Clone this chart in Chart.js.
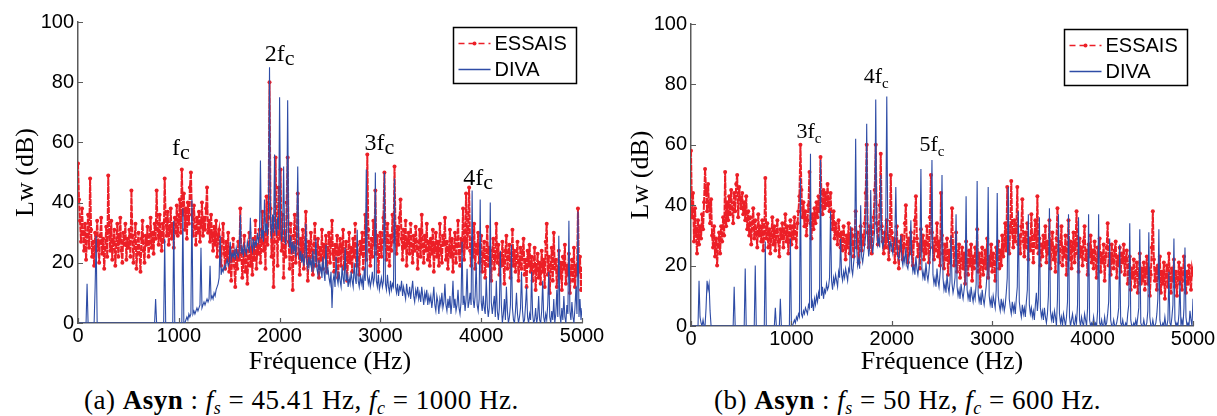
<!DOCTYPE html>
<html>
<head>
<meta charset="utf-8">
<script src="https://cdn.jsdelivr.net/npm/chart.js@4.4.1/dist/chart.umd.min.js"></script>
<style>
  html, body { margin: 0; padding: 0; background: #fff; }
  body { width: 1217px; height: 416px; position: relative; overflow: hidden; }
  canvas { position: absolute; top: 0; }
  #chartA { left: 0; }
  #chartB { left: 610px; }
  .caption { position: absolute; top: 386px; line-height: 28px; font-family: "Liberation Serif", serif; font-size: 27px; letter-spacing: 0.5px; white-space: nowrap; color: #000; }
  .caption sub { font-size: 18px; vertical-align: -5px; line-height: 0; }
</style>
</head>
<body>
<canvas id="chartA" width="610" height="375"></canvas>
<canvas id="chartB" width="607" height="375"></canvas>
<div class="caption" style="left:84px">(a) <b>Asyn</b> : <i>f<sub>s</sub></i> = 45.41 Hz, <i>f<sub>c</sub></i> = 1000 Hz.</div>
<div class="caption" style="left:714px">(b) <b>Asyn</b> : <i>f<sub>s</sub></i> = 50 Hz, <i>f<sub>c</sub></i> = 600 Hz.</div>
<script>
// Spectres de puissance acoustique Lw (dB), un point tous les 10 Hz, de 0 à 5000 Hz

const stepHz = 10;

// (a) fs = 45.41 Hz, fc = 1000 Hz
const essaisA = [
  53,41,34,27,38,30,24,33,21,29, 36,25,48,31,22,27,19,30,24,34, 26,20,29,35,23,28,18,25,32,22, 49,30,24,34,21,27,31,19,26,33, 22,28,35,24,20,30,26,33,21,28,
  25,31,22,44,29,20,27,33,18,25, 30,23,17,28,34,24,20,29,26,32, 22,27,35,25,30,23,33,28,44,31, 26,36,29,24,33,27,48,34,29,37, 26,31,38,28,33,25,35,30,39,29,
  34,41,30,51,36,43,31,38,28,40, 33,45,50,36,29,39,32,26,35,30, 37,27,33,40,29,35,31,38,45,30, 34,27,36,29,24,32,26,34,22,29, 31,24,19,28,33,23,18,27,21,30,
  17,25,14,22,28,19,12,24,18,27, 21,38,23,15,20,29,17,24,13,22, 30,19,25,16,28,21,34,18,26,23, 31,20,27,37,24,30,18,42,26,35, 80,38,22,31,12,27,55,33,19,45,
  28,51,24,36,15,30,22,40,55,27, 18,33,25,11,29,36,20,27,43,23, 16,28,21,31,18,25,37,22,14,27, 20,30,24,16,26,33,19,23,28,15, 25,21,31,18,26,22,29,17,24,30,
  20,27,34,23,17,26,21,29,15,24, 28,19,25,31,18,23,27,14,22,30, 20,25,17,28,22,33,19,26,21,16, 27,23,30,18,25,36,21,56,31,24, 19,28,22,34,26,44,23,29,17,25,
  30,22,27,35,50,28,21,33,25,19, 29,24,36,27,52,30,23,32,26,35, 41,28,21,31,25,34,19,27,30,23, 33,26,20,29,24,32,27,18,25,31, 22,36,26,20,29,24,33,21,27,19,
  28,23,31,17,25,30,22,27,19,33, 24,20,29,26,35,21,27,18,24,31, 22,28,17,25,30,20,26,34,23,19, 28,24,38,21,27,43,25,31,45,24, 19,28,22,33,18,26,23,30,20,25,
  29,17,23,27,15,22,32,19,25,21, 14,24,28,18,22,33,20,26,16,23, 19,27,21,13,24,29,18,22,26,15, 21,31,19,24,17,22,27,14,20,25, 18,23,28,16,21,12,24,19,26,17,
  22,14,19,25,11,18,23,15,20,13, 24,17,21,12,27,33,16,22,10,19, 25,14,30,18,21,12,17,24,15,20, 11,22,18,26,13,19,16,23,10,18, 21,14,25,12,19,16,38,17,22,11,
  18
];
const divaA = [
  0,0,0,0,0,0,0,0,0,13, 0,0,0,0,0,0,0,12,29,0, 0,0,0,0,0,0,0,0,0,0, 0,0,0,0,0,0,0,0,0,0, 0,0,0,0,0,0,0,0,0,0,
  0,0,0,0,0,0,0,0,0,0, 0,0,0,0,0,0,0,0,0,0, 0,0,0,0,0,0,0,8,0,0, 0,0,0,0,0,0,28,0,0,0, 0,0,0,0,0,34,0,0,0,0,
  0,0,0,0,38,0,0,1,2,1, 3,2,3,41,3,4,3,4,5,4, 5,6,25,5,6,7,6,7,8,7, 8,19,8,9,8,10,9,11,12,13, 15,29,16,18,17,19,18,20,21,19,
  20,27,21,23,22,24,21,25,23,22, 24,36,23,25,22,26,24,23,27,25, 24,35,26,24,28,25,27,26,30,27, 29,54,28,31,27,41,30,33,29,38, 85,34,28,36,30,56,32,29,35,31,
  75,33,27,31,52,29,26,30,74,28, 25,29,23,27,24,26,22,28,52,25, 21,24,20,23,19,22,33,20,18,22, 19,21,17,24,18,20,28,18,16,21, 17,19,15,22,17,14,26,16,18,15,
  13,17,5,14,16,12,22,15,13,17, 14,12,19,15,13,25,14,16,12,15, 13,17,14,12,20,15,13,31,14,12, 16,13,15,11,18,14,51,16,13,15, 12,14,17,13,15,50,14,12,16,11,
  13,15,12,14,50,13,11,16,12,10, 14,11,13,12,48,12,10,13,9,12, 11,14,9,12,10,8,13,10,9,12, 8,11,14,9,7,11,9,12,8,10, 7,12,9,6,10,8,11,6,9,7,
  9,5,8,12,6,4,9,7,3,8, 6,10,5,7,13,6,4,8,5,9, 3,7,14,5,8,4,6,11,5,3, 7,27,6,9,4,8,18,5,7,10, 6,44,8,5,9,20,6,4,8,41,
  7,4,9,5,3,15,6,2,5,40, 7,3,6,9,2,14,4,1,5,24, 6,0,3,8,1,12,4,0,2,6, 26,5,1,0,4,10,3,0,2,5, 17,4,0,1,6,12,2,0,3,1,
  17,3,0,1,5,0,2,9,1,0, 4,14,2,0,3,1,6,17,2,0, 4,1,8,0,3,11,2,29,3,0, 5,1,9,2,0,6,3,34,4,1, 7,2,0,5,12,3,37,2,8,1,
  5
];

// (b) fs = 50 Hz, fc = 600 Hz
const essaisB = [
  58,36,44,28,39,31,24,35,27,33, 29,37,32,41,52,45,38,47,40,34, 42,30,26,33,23,29,20,27,31,24, 33,28,36,30,51,33,41,35,43,37, 45,39,34,44,38,47,50,36,46,42,
  39,44,37,41,35,43,32,38,30,36, 27,34,39,29,35,31,26,37,30,33, 28,35,25,31,49,29,34,26,32,24, 30,36,27,33,25,31,35,28,23,32, 29,34,26,31,37,28,33,24,30,35,
  27,33,29,36,31,26,34,38,43,60, 45,36,41,33,38,30,35,40,51,34, 29,37,32,39,34,41,36,43,38,56, 42,37,45,39,44,40,47,41,38,44, 36,32,38,29,34,31,27,35,30,26,
  31,25,33,28,22,30,26,34,24,29, 32,27,23,30,38,26,31,21,28,33, 25,30,27,34,44,60,31,26,33,28, 24,31,36,45,60,34,27,32,40,57, 33,28,24,31,26,35,29,22,30,50,
  31,25,29,21,27,33,24,19,28,25, 30,22,26,34,40,27,21,29,24,31, 26,20,28,35,43,29,23,27,19,32, 25,30,22,28,24,33,27,21,36,50, 31,26,22,29,25,34,23,28,20,44,
  30,24,19,27,22,29,17,25,21,28, 39,26,20,24,31,18,23,27,16,22, 26,19,24,14,28,21,17,25,20,27, 15,23,19,26,21,32,18,24,13,22, 26,17,21,25,19,29,16,23,20,27,
  18,24,21,15,26,22,28,19,25,20, 30,23,27,34,25,46,29,24,33,48, 31,26,35,28,32,46,27,30,24,33, 42,28,23,31,26,34,22,29,25,37, 27,21,30,35,26,43,24,29,20,27,
  23,30,26,33,21,28,24,35,19,27, 31,22,26,18,29,39,25,21,28,33, 20,26,23,30,17,25,35,22,28,19, 26,31,21,27,38,24,18,29,23,26, 20,28,33,22,25,17,27,23,30,21,
  25,19,28,22,16,26,23,29,18,24, 21,27,15,23,26,34,20,24,17,27, 22,19,25,28,16,23,20,26,18,24, 21,27,17,22,25,14,20,23,12,19, 16,22,13,18,21,11,17,24,14,19,
  15,21,12,18,23,14,19,10,17,26, 38,22,15,19,12,20,16,23,11,18, 14,21,9,17,20,13,24,16,11,19, 15,22,13,18,10,16,21,14,19,12, 17,23,15,11,18,14,20,16,12,19,
  17
];
const divaB = [
  0,0,0,0,0,0,0,0,15,3, 1,0,2,0,0,6,15,12,14,5, 0,0,0,0,0,0,0,0,0,0, 0,0,0,0,0,0,0,0,0,0, 0,0,0,13,0,0,0,0,0,0,
  0,0,0,0,19,0,0,0,0,0, 0,0,0,0,20,0,0,0,0,0, 0,0,0,0,28,0,0,0,0,0, 0,0,0,0,6,0,0,0,0,9, 0,0,0,0,0,0,0,0,0,29,
  0,0,1,2,1,3,2,4,3,49, 4,3,5,4,6,5,4,7,6,57, 6,8,5,9,7,10,8,11,9,55, 10,13,9,12,11,14,12,13,16,38, 15,12,16,14,17,15,13,18,16,29,
  17,15,18,16,19,17,15,19,18,33, 19,17,21,24,62,26,20,22,19,40, 23,21,24,27,30,67,28,23,26,45, 27,24,28,32,75,33,27,29,26,50, 29,26,28,31,35,76,30,27,25,28,
  26,24,27,29,46,27,23,22,25,30, 22,20,23,21,26,20,19,22,25,35, 21,18,20,17,23,19,17,20,24,52, 19,16,18,15,21,17,15,18,22,28, 55,17,14,16,13,19,15,13,17,21,
  50,16,12,14,11,17,13,11,15,30, 14,11,13,16,37,13,10,12,9,14, 11,9,12,15,43,12,9,11,8,13, 10,8,11,9,14,48,11,8,10,7, 12,9,7,10,13,18,46,10,7,9,
  6,10,8,6,12,44,10,7,5,9, 6,8,5,7,11,16,46,9,6,4, 8,5,7,4,9,13,38,8,5,3, 7,4,6,3,8,12,37,7,4,6, 3,5,2,7,11,5,9,36,6,3,
  5,2,6,3,1,4,10,39,5,2, 4,1,5,3,0,9,37,4,1,3, 0,4,2,0,3,8,37,3,0,2, 4,1,0,3,1,7,36,2,0,3, 1,0,4,2,0,6,37,2,0,1,
  0,3,0,1,0,5,37,1,0,2, 0,0,3,0,1,4,8,29,2,0, 0,2,0,0,1,3,6,27,1,0, 2,0,0,1,0,4,7,34,2,0, 0,1,0,2,0,3,6,32,1,0,
  0,2,0,0,1,5,31,3,0,0, 2,0,0,1,4,9,32,2,0,0, 1,0,3,0,0,2,18,1,0,3, 7,29,2,0,1,0,4,15,0,2, 0,6,26,3,0,1,0,5,2,0,
  9
];

// graduations
const xTicks = [0, 1000, 2000, 3000, 4000, 5000];
const yTicks = [0, 20, 40, 60, 80, 100];

// repères des harmoniques de fc : texte, fréquence (Hz), niveau (dB)
const harmTextA = ['f', '2f', '3f', '4f'];
const harmFreqA = [1020, 2000, 2990, 3970];
const harmLevelA = [55.7, 86.9, 57.4, 45.8];
const harmTextB = ['3f', '4f', '5f'];
const harmFreqB = [1175, 1845, 2400];
const harmLevelB = [62.4, 80.5, 58.1];

const freqHz = essaisA.map((_, i) => i * stepHz);

const red = '#ec1f27';
const blue = '#2e4ca6';
const axisColor = '#5a5a5a';

function decorPlugin(cfg) {
    return {
        id: 'decor',
        afterDraw(chart) {
            const ctx = chart.ctx;
            const a = chart.chartArea;
            const xs = chart.scales.x, ys = chart.scales.y;
            ctx.save();

            // petites graduations vers l'intérieur (style Matlab)
            ctx.strokeStyle = axisColor;
            ctx.lineWidth = 1.2;
            ctx.beginPath();
            xTicks.forEach(v => {
                const px = Math.round(xs.getPixelForValue(v)) + 0.5;
                ctx.moveTo(px, a.bottom);
                ctx.lineTo(px, a.bottom - 5);
            });
            yTicks.forEach(v => {
                const py = Math.round(ys.getPixelForValue(v)) + 0.5;
                ctx.moveTo(a.left, py);
                ctx.lineTo(a.left + 5, py);
            });
            ctx.stroke();

            // titres des axes
            ctx.fillStyle = '#000';
            ctx.font = '26px "Liberation Serif"';
            ctx.textAlign = 'center';
            ctx.textBaseline = 'alphabetic';
            ctx.fillText('Fréquence (Hz)', (a.left + a.right) / 2, cfg.xTitleY);
            ctx.save();
            ctx.translate(cfg.yTitleX, (a.top + a.bottom) / 2);
            ctx.rotate(-Math.PI / 2);
            ctx.fillText('Lw (dB)', 0, 0);
            ctx.restore();

            // harmoniques
            ctx.textAlign = 'left';
            cfg.harmText.forEach((txt, i) => {
                ctx.font = cfg.mainFont;
                const w1 = ctx.measureText(txt).width;
                ctx.font = cfg.subFont;
                const w2 = ctx.measureText('c').width;
                const cx = xs.getPixelForValue(cfg.harmFreq[i]);
                const by = ys.getPixelForValue(cfg.harmLevel[i]);
                const x0 = cx - (w1 + w2) / 2;
                ctx.font = cfg.mainFont;
                ctx.fillText(txt, x0, by);
                ctx.font = cfg.subFont;
                ctx.fillText('c', x0 + w1, by + cfg.subDrop);
            });

            // légende
            const bx = Math.round(a.right - 129) + 0.5, by = Math.round(a.top + 5) + 0.5;
            const bw = 123, bh = 56;
            ctx.fillStyle = '#fff';
            ctx.fillRect(bx, by, bw, bh);
            ctx.strokeStyle = '#000';
            ctx.lineWidth = 1.5;
            ctx.strokeRect(bx, by, bw, bh);
            const r1 = by + 16, r2 = by + 42;
            ctx.strokeStyle = red;
            ctx.lineWidth = 1.3;
            ctx.setLineDash([6, 4]);
            ctx.beginPath();
            ctx.moveTo(bx + 5, r1);
            ctx.lineTo(bx + 37, r1);
            ctx.stroke();
            ctx.setLineDash([]);
            ctx.fillStyle = red;
            ctx.beginPath();
            ctx.arc(bx + 21, r1, 2, 0, Math.PI * 2);
            ctx.fill();
            ctx.strokeStyle = blue;
            ctx.lineWidth = 1.3;
            ctx.beginPath();
            ctx.moveTo(bx + 5, r2);
            ctx.lineTo(bx + 37, r2);
            ctx.stroke();
            ctx.fillStyle = '#000';
            ctx.font = '20px "Liberation Sans"';
            ctx.textBaseline = 'middle';
            ctx.fillText('ESSAIS', bx + 41, r1 + 1);
            ctx.fillText('DIVA', bx + 41, r2 + 1);

            ctx.restore();
        }
    };
}

function makeChart(id, essais, diva, cfg) {
    const canvas = document.getElementById(id);
    return new Chart(canvas, {
        type: 'line',
        data: {
            labels: freqHz,
            datasets: [
                {
                    label: 'DIVA',
                    data: diva,
                    borderColor: blue,
                    borderWidth: 1.1,
                    pointRadius: 0,
                    order: 0
                },
                {
                    label: 'ESSAIS',
                    data: essais,
                    borderColor: red,
                    borderWidth: 2,
                    borderDash: [6, 1],
                    pointRadius: 2,
                    pointBorderWidth: 0,
                    pointBackgroundColor: red,
                    order: 1
                }
            ]
        },
        options: {
            responsive: false,
            animation: false,
            devicePixelRatio: 1,
            layout: { padding: { top: cfg.top, right: cfg.right, left: 0, bottom: 0 } },
            elements: { line: { tension: 0 } },
            plugins: {
                legend: { display: false },
                tooltip: { enabled: false }
            },
            scales: {
                x: {
                    type: 'linear',
                    min: 0,
                    max: 5000,
                    afterBuildTicks: s => { s.ticks = xTicks.map(v => ({ value: v })); },
                    afterFit: s => { s.height = canvas.height - cfg.bottom; },
                    ticks: {
                        font: { family: 'Liberation Sans', size: 20 },
                        color: '#000',
                        padding: 1,
                        maxRotation: 0,
                        autoSkip: false,
                        callback: v => String(v)
                    },
                    grid: { display: false, drawTicks: false },
                    border: { color: axisColor, width: 1.5 }
                },
                y: {
                    min: 0,
                    max: 100,
                    afterBuildTicks: s => { s.ticks = yTicks.map(v => ({ value: v })); },
                    afterFit: s => { s.width = cfg.left; },
                    ticks: {
                        font: { family: 'Liberation Sans', size: 20 },
                        color: '#000',
                        padding: 4,
                        autoSkip: false,
                        callback: v => String(v)
                    },
                    grid: { display: false, drawTicks: false },
                    border: { color: axisColor, width: 1.5 }
                }
            }
        },
        plugins: [decorPlugin(cfg)]
    });
}

makeChart('chartA', essaisA, divaA, {
    left: 78, right: 28, top: 22, bottom: 323,
    xTitleY: 369, yTitleX: 33,
    harmText: harmTextA, harmFreq: harmFreqA, harmLevel: harmLevelA,
    mainFont: '24px "Liberation Serif"', subFont: '22px "Liberation Serif"', subDrop: 4
});
makeChart('chartB', essaisB, divaB, {
    left: 81, right: 24, top: 24, bottom: 326,
    xTitleY: 369, yTitleX: 38,
    harmText: harmTextB, harmFreq: harmFreqB, harmLevel: harmLevelB,
    mainFont: '22px "Liberation Serif"', subFont: '15px "Liberation Serif"', subDrop: 5
});
</script>
</body>
</html>
